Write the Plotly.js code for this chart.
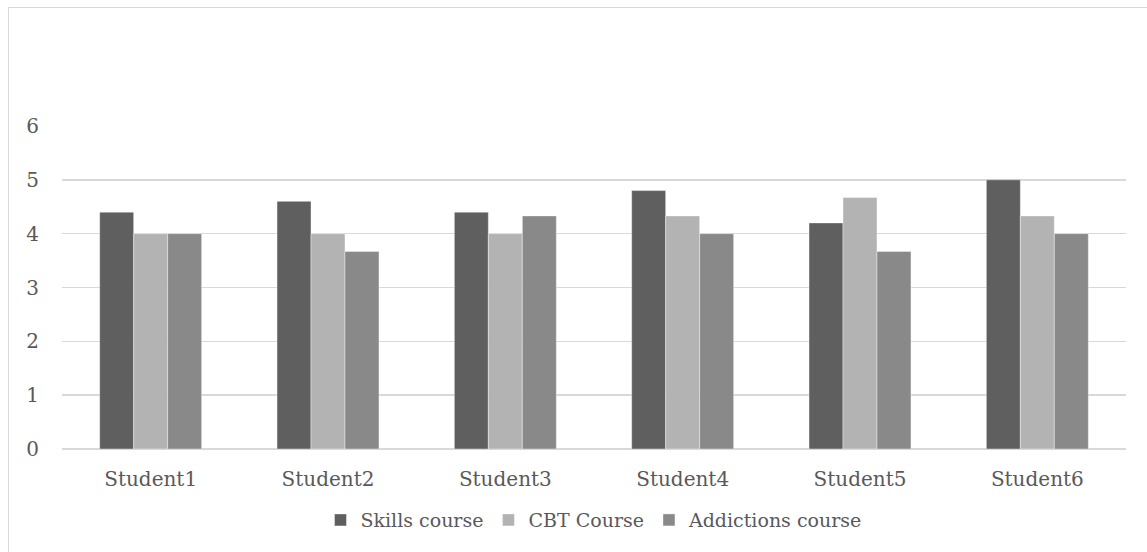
<!DOCTYPE html>
<html>
<head>
<meta charset="utf-8">
<script src="https://cdn.plot.ly/plotly-3.0.1.min.js"></script>
<style>
html,body{margin:0;padding:0;background:#fff;overflow:hidden;}
#chart{width:1147px;height:552px;position:absolute;left:0;top:0;}
#frame{position:absolute;left:8px;top:7px;width:1160px;height:600px;border:1px solid #d9d9d9;pointer-events:none;}
</style>
</head>
<body>
<div id="chart"></div>
<div id="frame"></div>
<script>
const categories = ["Student1","Student2","Student3","Student4","Student5","Student6"];
const skills = [4.4, 4.6, 4.4, 4.8, 4.2, 5];
const cbt = [4, 4, 4, 4.33, 4.67, 4.33];
const addictions = [4, 3.67, 4.33, 4, 3.67, 4];
const seriesNames = ["Skills course","CBT Course","Addictions course"];
const colors = ["#5f5f5f","#b3b3b3","#898989"];
const tickVals = [0,1,2,3,4,5,6];

const font = "'DejaVu Serif', serif";
const traces = [skills, cbt, addictions].map((v,i)=>({
  type:'bar', x:categories, y:v, name:seriesNames[i],
  marker:{color:colors[i], line:{color:'rgba(255,255,255,0.5)', width:0.8}}
}));
const layout = {
  width:1147, height:552,
  margin:{l:62, r:21, t:126, b:103},
  paper_bgcolor:'#fff', plot_bgcolor:'#fff',
  barmode:'group', bargap:0.425, bargroupgap:0,
  font:{family:font, size:20, color:'#595959'},
  xaxis:{showgrid:false, showline:false, zeroline:false, ticks:'', tickfont:{size:20, color:'#595959'}, ticklabelstandoff:16},
  yaxis:{range:[0,6], tickvals:tickVals, showgrid:true, gridcolor:'#d9d9d9', gridwidth:1.5,
         zeroline:true, zerolinecolor:'#d9d9d9', zerolinewidth:1.5, showline:false, ticks:'',
         tickfont:{size:20, color:'#595959'}, ticklabelstandoff:22},
  legend:{orientation:'h', x:0.5, xanchor:'center', y:-0.22, yanchor:'middle',
          font:{size:19, color:'#595959'}, itemwidth:30, tracegroupgap:0},
  showlegend:true
};
Plotly.newPlot('chart', traces, layout, {displayModeBar:false, staticPlot:true});
</script>
</body>
</html>
